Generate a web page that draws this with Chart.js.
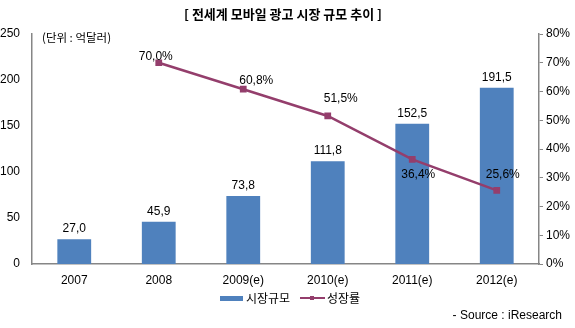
<!DOCTYPE html>
<html>
<head>
<meta charset="utf-8">
<script src="https://cdn.jsdelivr.net/npm/chart.js@4"></script>
<style>
  html, body { margin: 0; padding: 0; background: #fff; }
  #wrap { width: 575px; height: 328px; position: relative; }
</style>
</head>
<body>
<div id="wrap"><canvas id="chart"></canvas></div>
<script>
// Chart data
const years = ['2007', '2008', '2009(e)', '2010(e)', '2011(e)', '2012(e)'];
const marketSize = [27.0, 45.9, 73.8, 111.8, 152.5, 191.5];
const growthRate = [null, 70.0, 60.8, 51.5, 36.4, 25.6];
const leftTicks = [0, 50, 100, 150, 200, 250];
const rightTicks = [0, 10, 20, 30, 40, 50, 60, 70, 80];

const BAR_COLOR = '#4f81bd';
const LINE_COLOR = '#943e6c';
const AXIS_COLOR = '#868686';
const FONT = "'Liberation Sans', 'Noto Sans CJK KR', sans-serif";
const KFONT = "'Noto Sans CJK KR', 'Liberation Sans', sans-serif";

// Comma decimal, like the original
function fmt(v) {
    return v.toFixed(1).replace('.', ',');
}

// Value labels, title, unit, legend and source
const labelPlugin = {
    id: 'labelPlugin',
    afterDatasetsDraw(chart) {
        const ctx = chart.ctx;
        ctx.save();
        ctx.fillStyle = '#000';
        ctx.font = '12px ' + FONT;
        ctx.textAlign = 'center';

        // bar values
        ctx.textBaseline = 'bottom';
        chart.getDatasetMeta(0).data.forEach((bar, i) => {
            ctx.fillText(fmt(marketSize[i]), bar.x, bar.y - 4);
        });

        // line values
        const offsets = chart.options.plugins.labelPlugin.rateOffsets;
        ctx.textBaseline = 'middle';
        chart.getDatasetMeta(1).data.forEach((pt, i) => {
            if (growthRate[i] === null) return;
            const o = offsets[i];
            ctx.fillText(fmt(growthRate[i]) + '%', pt.x + o[0], pt.y + o[1]);
        });
        ctx.restore();
    },
    afterDraw(chart) {
        const ctx = chart.ctx;
        ctx.save();
        ctx.fillStyle = '#000';
        ctx.textBaseline = 'middle';

        // title
        ctx.font = 'bold 13px ' + KFONT;
        ctx.textAlign = 'center';
        ctx.fillText('[ 전세계 모바일 광고 시장 규모 추이 ]', 283, 14);

        // unit
        ctx.font = '11.5px ' + KFONT;
        ctx.textAlign = 'left';
        ctx.fillText('(단위 : 억달러)', 42, 38);

        // legend
        ctx.fillStyle = BAR_COLOR;
        ctx.fillRect(220, 296, 23, 5);
        ctx.fillStyle = '#000';
        ctx.font = '12px ' + KFONT;
        ctx.fillText('시장규모', 246, 298);
        ctx.strokeStyle = LINE_COLOR;
        ctx.lineWidth = 2;
        ctx.beginPath();
        ctx.moveTo(300, 298);
        ctx.lineTo(325, 298);
        ctx.stroke();
        ctx.fillStyle = LINE_COLOR;
        ctx.fillRect(310, 296, 4, 4);
        ctx.fillStyle = '#000';
        ctx.fillText('성장률', 327, 298);

        // source
        ctx.font = '12px ' + FONT;
        ctx.textAlign = 'right';
        ctx.fillText('- Source : iResearch', 562, 316);
        ctx.restore();
    }
};

const ctx = document.getElementById('chart').getContext('2d');
const chart = new Chart(ctx, {
    type: 'bar',
    data: {
        labels: years,
        datasets: [{
            type: 'bar',
            label: '시장규모',
            data: marketSize,
            backgroundColor: BAR_COLOR,
            barPercentage: 0.4,
            categoryPercentage: 1.0,
            yAxisID: 'y',
            order: 2
        }, {
            type: 'line',
            label: '성장률',
            data: growthRate,
            borderColor: LINE_COLOR,
            backgroundColor: LINE_COLOR,
            borderWidth: 2.5,
            pointStyle: 'rect',
            pointRadius: 3,
            tension: 0,
            yAxisID: 'y1',
            order: 1
        }]
    },
    options: {
        responsive: true,
        maintainAspectRatio: false,
        animation: false,
        layout: {
            padding: { top: 34, left: 0, right: 0, bottom: 0 }
        },
        scales: {
            x: {
                grid: { display: false, drawTicks: false },
                border: { display: true, color: AXIS_COLOR, width: 1.5 },
                ticks: { color: '#000', font: { family: FONT, size: 12 }, padding: 9, maxRotation: 0 },
                afterFit: s => { s.height = 64; }
            },
            y: {
                position: 'left',
                min: 0,
                max: 250,
                afterBuildTicks: s => { s.ticks = leftTicks.map(v => ({ value: v })); },
                grid: { display: false, drawTicks: false },
                border: { display: true, color: AXIS_COLOR, width: 1.5 },
                ticks: { color: '#000', font: { family: FONT, size: 12 }, padding: 12 },
                afterFit: s => { s.width = 32; }
            },
            y1: {
                position: 'right',
                min: 0,
                max: 80,
                afterBuildTicks: s => { s.ticks = rightTicks.map(v => ({ value: v })); },
                grid: { display: true, drawOnChartArea: false, drawTicks: true, tickLength: 4, color: AXIS_COLOR },
                border: { display: true, color: AXIS_COLOR, width: 1.5 },
                ticks: {
                    color: '#000',
                    font: { family: FONT, size: 12 },
                    padding: 3,
                    callback: v => v + '%'
                },
                afterFit: s => { s.width = 36; }
            }
        },
        plugins: {
            legend: { display: false },
            title: { display: false },
            tooltip: { enabled: false },
            labelPlugin: {
                rateOffsets: [null, [-3, -6], [13, -9], [13, -17], [6, 15], [6, -16]]
            }
        }
    },
    plugins: [labelPlugin]
});
</script>
</body>
</html>
